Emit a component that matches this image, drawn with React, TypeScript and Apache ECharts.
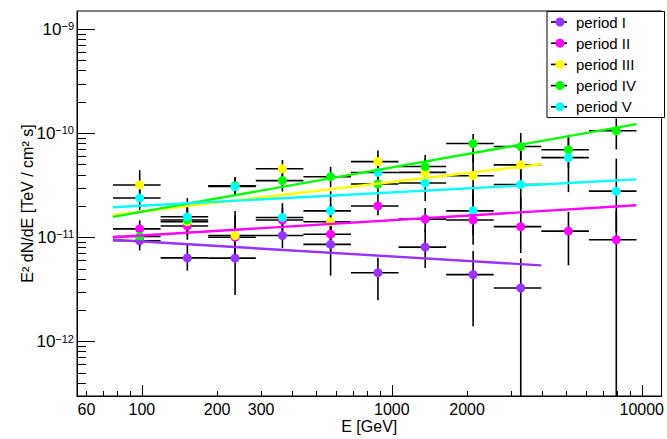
import React, { useEffect, useRef } from 'react';
import * as echarts from 'echarts';

const FONT = '"Liberation Sans", Arial, Helvetica, sans-serif';
// flux values below are in units of 1e-11 TeV / cm^2 s
const UNIT = 1e-11;

const energyEdges = [76.6, 118.8, 184.2, 285.6, 442.8, 686.5, 1064, 1650, 2557, 3964, 6145, 9526];
const energies = [98, 152, 236, 365, 569, 880, 1360, 2115, 3280, 5090, 7910];

const periodNames = ['period I', 'period II', 'period III', 'period IV', 'period V'];
const periodColors = ['#9933ff', '#ff00ff', '#ffff00', '#00ff00', '#00ffff'];

const fluxI = [0.93, 0.637, 0.633, 1.044, 0.858, 0.459, 0.809, 0.44, 0.327, null, null];
const errI = [[0.75, 1.16], [0.48, 0.86], [0.28, 1.02], [0.79, 1.36], [0.43, 1.33], [0.25, 0.64], [0.51, 1.2], [0.14, 0.74], [0.01, 0.63], null, null];

const fluxII = [1.209, 1.291, 1.006, 1.471, 1.075, 2.01, 1.503, 1.471, 1.271, 1.152, 0.951];
const errII = [[1.0, 1.46], [0.95, 1.75], [0.69, 1.8], [1.13, 1.91], [0.73, 1.59], [1.64, 2.55], [1.12, 1.92], [0.85, 2.6], [0.71, 2.44], [0.54, 1.76], [0.01, 1.8]];

const fluxIII = [3.197, 1.418, 1.044, 4.571, 1.418, 5.36, 4.22, 3.925, 4.99, null, null];
const errIII = [[2.45, 4.44], [1.05, 1.92], [0.68, 1.62], [3.7, 5.56], [0.96, 2.1], [4.13, 6.86], [3.1, 5.72], [2.27, 6.76], [3.09, 8.08], null, null];

const fluxIV = [1.022, 1.471, 3.14, 3.519, 3.839, 3.267, 4.806, 7.99, 7.48, 6.96, 10.61];
const errIV = [[0.82, 1.27], [1.06, 2.04], [2.58, 3.82], [2.77, 4.5], [3.04, 4.78], [2.52, 4.24], [3.54, 6.2], [5.25, 9.87], [4.7, 10.09], [4.7, 9.72], [7.01, 13.99]];

const fluxV = [2.392, 1.58, 3.088, 1.557, 1.802, 4.217, 3.339, 1.802, 3.225, 5.85, 2.787];
const errV = [[1.84, 3.1], [1.14, 2.39], [2.61, 3.78], [1.22, 2.14], [1.17, 2.78], [3.24, 5.48], [2.24, 4.5], [1.05, 3.1], [1.86, 5.6], [2.73, 9.1], [1.14, 5.72]];

// power-law fits: [E start, flux start], [E end, flux end]
const fitI = [[76.6, 0.951], [3964, 0.54]];
const fitII = [[76.6, 1.006], [9526, 2.04]];
const fitIII = [[76.6, 1.651], [3964, 5.05]];
const fitIV = [[76.6, 1.58], [9526, 12.27]];
const fitV = [[76.6, 1.953], [9526, 3.62]];

const fluxes = [fluxI, fluxII, fluxIII, fluxIV, fluxV];
const errors = [errI, errII, errIII, errIV, errV];
const fits = [fitI, fitII, fitIII, fitIV, fitV];

const xMin = 55;
const xMax = 12000;
const yMin = 3e-13;
const yMax = 1.5e-9;

const xLabelValues = [60, 100, 200, 300, 1000, 2000, 10000];
const xMajorTicks = [100, 1000, 10000];
const xMinorTicks = [60, 70, 80, 90, 200, 300, 400, 500, 600, 700, 800, 900, 2000, 3000, 4000, 5000, 6000, 7000, 8000, 9000];
const yMajorTicks = [1e-12, 1e-11, 1e-10, 1e-9];
const yMinorTicks = [
  3e-13, 4e-13, 5e-13, 6e-13, 7e-13, 8e-13, 9e-13,
  2e-12, 3e-12, 4e-12, 5e-12, 6e-12, 7e-12, 8e-12, 9e-12,
  2e-11, 3e-11, 4e-11, 5e-11, 6e-11, 7e-11, 8e-11, 9e-11,
  2e-10, 3e-10, 4e-10, 5e-10, 6e-10, 7e-10, 8e-10, 9e-10,
];

const lg = (v: number) => Math.log10(v);

const App: React.FC = () => {
  const chartRef = useRef<HTMLDivElement>(null);

  useEffect(() => {
    if (!chartRef.current) return;
    const chart = echarts.init(chartRef.current, undefined, { renderer: 'svg' });

    const lyMin = lg(yMin);

    // error bars: [x, y, xlo, xhi, ylo, yhi] in log space
    const errorSeries: any[] = fluxes.map((flux, p) => ({
      type: 'custom',
      name: periodNames[p] + ' errors',
      xAxisIndex: 0,
      yAxisIndex: 0,
      z: 2,
      encode: { x: 0, y: 1 },
      data: flux
        .map((f, i) => {
          if (f == null) return null;
          const e = errors[p][i] as number[];
          return [
            lg(energies[i]),
            lg(f * UNIT),
            lg(energyEdges[i]),
            lg(energyEdges[i + 1]),
            Math.max(lg(e[0] * UNIT), lyMin),
            lg(e[1] * UNIT),
          ];
        })
        .filter((d) => d != null),
      renderItem: (_params: any, api: any) => {
        const y = api.value(1);
        const x = api.value(0);
        const pl = api.coord([api.value(2), y]);
        const ph = api.coord([api.value(3), y]);
        const pb = api.coord([x, api.value(4)]);
        const pt = api.coord([x, api.value(5)]);
        const style = { stroke: '#000', lineWidth: 1.6 };
        return {
          type: 'group',
          children: [
            { type: 'line', shape: { x1: pl[0], y1: pl[1], x2: ph[0], y2: ph[1] }, style },
            { type: 'line', shape: { x1: pb[0], y1: pb[1], x2: pt[0], y2: pt[1] }, style },
          ],
        };
      },
    }));

    const pointSeries: any[] = fluxes.map((flux, p) => ({
      type: 'scatter',
      name: periodNames[p],
      xAxisIndex: 0,
      yAxisIndex: 0,
      z: 3,
      symbol: 'circle',
      symbolSize: 9,
      itemStyle: { color: periodColors[p], opacity: 1 },
      data: flux
        .map((f, i) => (f == null ? null : [lg(energies[i]), lg(f * UNIT)]))
        .filter((d) => d != null),
    }));

    const fitSeries: any[] = fits.map((fit, p) => ({
      type: 'line',
      name: periodNames[p] + ' fit',
      xAxisIndex: 0,
      yAxisIndex: 0,
      z: 4,
      symbol: 'none',
      lineStyle: { color: periodColors[p], width: 2.4 },
      data: fit.map(([e, f]) => [lg(e), lg(f * UNIT)]),
    }));

    const legendRowH = 21.2;
    const legend = {
      type: 'group',
      left: 546.5,
      top: 11,
      children: [
        {
          type: 'rect',
          shape: { x: 0, y: 0, width: 117.5, height: 106 },
          style: { fill: '#fff', stroke: '#000', lineWidth: 1 },
        },
        ...periodNames.flatMap((name, i) => {
          const cy = 10.5 + i * legendRowH;
          return [
            { type: 'line', shape: { x1: 4, y1: cy, x2: 20, y2: cy }, style: { stroke: '#000', lineWidth: 1.6 } },
            { type: 'circle', shape: { cx: 13, cy, r: 4.5 }, style: { fill: periodColors[i] } },
            {
              type: 'text',
              x: 29,
              y: cy,
              style: { text: name, fill: '#000', font: `15px ${FONT}`, verticalAlign: 'middle' },
            },
          ];
        }),
      ],
    };

    const option: any = {
      animation: false,
      backgroundColor: '#fff',
      textStyle: { fontFamily: FONT },
      grid: {
        left: 77,
        right: 3,
        top: 11,
        bottom: 37,
        show: true,
        borderColor: '#000',
        borderWidth: 1,
        backgroundColor: 'transparent',
      },
      xAxis: [
        {
          type: 'value',
          min: lg(xMin),
          max: lg(xMax),
          name: 'E [GeV]',
          nameLocation: 'middle',
          nameGap: 22,
          nameMoveOverlap: false,
          nameTextStyle: { color: '#000', fontSize: 16, fontFamily: FONT, verticalAlign: 'top' },
          axisLine: { show: true, onZero: false, lineStyle: { color: '#000', width: 1 } },
          axisTick: {
            show: true,
            inside: true,
            length: 11,
            customValues: xMajorTicks.map(lg),
            lineStyle: { color: '#000', width: 1 },
          },
          axisLabel: {
            show: true,
            margin: 5,
            customValues: xLabelValues.map(lg),
            formatter: (v: number) => String(Math.round(Math.pow(10, v))),
            color: '#000',
            fontSize: 16,
            fontFamily: FONT,
            showMinLabel: true,
            showMaxLabel: true,
          },
          splitLine: { show: false },
        },
        {
          type: 'value',
          position: 'bottom',
          min: lg(xMin),
          max: lg(xMax),
          axisLine: { show: false },
          axisTick: {
            show: true,
            inside: true,
            length: 5,
            customValues: xMinorTicks.map(lg),
            lineStyle: { color: '#000', width: 1 },
          },
          axisLabel: { show: false },
          splitLine: { show: false },
        },
      ],
      yAxis: [
        {
          type: 'value',
          position: 'left',
          min: lg(yMin),
          max: lg(yMax),
          name: 'E² dN/dE [TeV / cm² s]',
          nameLocation: 'middle',
          nameGap: 50,
          nameMoveOverlap: false,
          nameTextStyle: { color: '#000', fontSize: 16, fontFamily: FONT, verticalAlign: 'middle' },
          axisLine: { show: true, onZero: false, lineStyle: { color: '#000', width: 1 } },
          axisTick: {
            show: true,
            inside: true,
            length: 18,
            customValues: yMajorTicks.map(lg),
            lineStyle: { color: '#000', width: 1 },
          },
          axisLabel: {
            show: true,
            margin: 3,
            customValues: yMajorTicks.map(lg),
            formatter: (v: number) => {
              const ex = Math.round(v);
              return `{b|10}{s|${ex < 0 ? '\u2212' : ''}${Math.abs(ex)}}`;
            },
            rich: {
              b: { fontSize: 17, color: '#000', fontFamily: FONT },
              s: { fontSize: 11, color: '#000', fontFamily: FONT, verticalAlign: 'top', lineHeight: 11 },
            },
          },
          splitLine: { show: false },
        },
        {
          type: 'value',
          position: 'left',
          min: lg(yMin),
          max: lg(yMax),
          axisLine: { show: false },
          axisTick: {
            show: true,
            inside: true,
            length: 9,
            customValues: yMinorTicks.map(lg),
            lineStyle: { color: '#000', width: 1 },
          },
          axisLabel: { show: false },
          splitLine: { show: false },
        },
      ],
      graphic: [legend],
      series: [...errorSeries, ...pointSeries, ...fitSeries],
    };

    chart.setOption(option);
    return () => {
      chart.dispose();
    };
  }, []);

  return (
    <div
      ref={chartRef}
      style={{ position: 'fixed', left: 0, top: 0, width: '667px', height: '439px' }}
    />
  );
};

export default App;
